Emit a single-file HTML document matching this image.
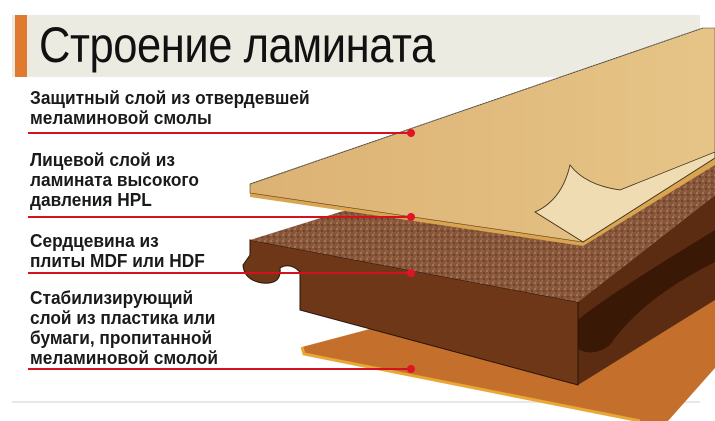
<!DOCTYPE html>
<html><head><meta charset="utf-8"><style>
html,body{margin:0;padding:0;background:#fff;}
body{width:715px;height:421px;position:relative;overflow:hidden;font-family:"Liberation Sans",sans-serif;}
.band{position:absolute;left:12px;top:15px;width:688px;height:62px;background:#ecebe1;}
.bar{position:absolute;left:15px;top:15px;width:12px;height:62px;background:#e07a2e;}
.title{position:absolute;left:39px;top:16px;font-size:50px;color:#111;transform:scaleX(0.87);transform-origin:0 0;white-space:nowrap;letter-spacing:-0.5px;}
.lab{position:absolute;left:30px;font-weight:bold;font-size:18px;line-height:20px;color:#1a1a1a;white-space:nowrap;transform:scaleX(0.96);transform-origin:0 0;}
svg{position:absolute;left:0;top:0;}
</style></head><body>
<div class="band"></div><div class="bar"></div>
<div class="title">Строение ламината</div>
<svg width="715" height="421" viewBox="0 0 715 421">
<defs>
<pattern id="sp" width="6" height="6" patternUnits="userSpaceOnUse">
<rect width="6" height="6" fill="#86553a"/>
<circle cx="1" cy="1" r="0.8" fill="#c59a70"/><circle cx="4" cy="3" r="0.7" fill="#4a2a18"/><circle cx="2" cy="5" r="0.6" fill="#b98a60"/>
</pattern>
<linearGradient id="wd" x1="0" y1="0" x2="1" y2="0"><stop offset="0" stop-color="#dcb274"/><stop offset="1" stop-color="#e6c487"/></linearGradient>
</defs>
<line x1="12" y1="402" x2="700" y2="402" stroke="#e2e2dc" stroke-width="1.5"/>
<polygon points="302,347 460,305 715,250 715,368 668,421 640,421 304,354" fill="#c4702c"/>
<polyline points="302,347 304,354 640,421" fill="none" stroke="#e8a838" stroke-width="3"/>
<polygon points="578,302 715,195 715,300 578,385" fill="#5c2c12"/>
<path d="M578,320 Q600,300 715,230 L715,262 Q640,300 610,345 Q590,360 572,345 Z" fill="#3a1806"/>
<path d="M250,240 L578,302 L578,385 L300,310 L300,272 Q290,262 280,268 Q282,285 262,283 Q244,280 243,265 L250,255 Z" fill="#6e3818" stroke="#2a1206" stroke-width="1"/>
<polygon points="250,240 715,95 715,195 578,302" fill="url(#sp)"/>
<polygon points="250,190 715,38 715,165 583,246 250,197" fill="#d9a550"/>
<polygon points="250,184 703,28 715,28 715,158 583,242 250,193" fill="url(#wd)" stroke="#5a4020" stroke-width="0.6"/>
<path d="M535,212 Q562,200 570,165 Q585,185 620,190 L715,152 L715,158 L583,242 Z" fill="#f0dcb2" stroke="#3a2a14" stroke-width="0.8"/>
<line x1="250" y1="184" x2="703" y2="28" stroke="#555" stroke-width="1" stroke-dasharray="2,1"/>
<g stroke="#d4121e" stroke-width="2"><line x1="28" y1="133" x2="411" y2="133"/><line x1="28" y1="217" x2="411" y2="217"/><line x1="28" y1="273" x2="411" y2="273"/><line x1="28" y1="369" x2="411" y2="369"/></g>
<g fill="#e01424"><circle cx="411" cy="133" r="4"/><circle cx="411" cy="217" r="4"/><circle cx="411" cy="273" r="4"/><circle cx="411" cy="369" r="4"/></g>
</svg>
<div class="lab" style="top:88px">Защитный слой из отвердевшей<br>меламиновой смолы</div>
<div class="lab" style="top:150px">Лицевой слой из<br>ламината высокого<br>давления HPL</div>
<div class="lab" style="top:231px">Сердцевина из<br>плиты MDF или HDF</div>
<div class="lab" style="top:288px">Стабилизирующий<br>слой из пластика или<br>бумаги, пропитанной<br>меламиновой смолой</div>
</body></html>
